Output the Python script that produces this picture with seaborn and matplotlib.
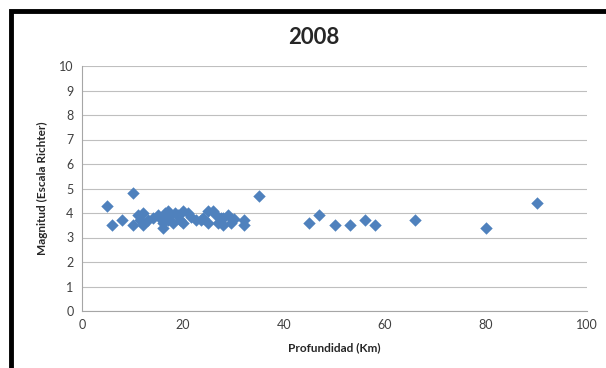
import numpy as np
import pandas as pd
import matplotlib
matplotlib.use("Agg")
import matplotlib.pyplot as plt
from matplotlib.patches import Rectangle
import seaborn as sns

# depth (km) and magnitude
profundidad = [5, 6, 8, 10, 10, 11, 11.5, 12, 12, 13, 14, 15, 15.5, 16, 16, 16.5, 17,
               17, 17.5, 18, 18.5, 19, 19.5, 20, 20, 21, 21.5, 22.5, 23.5, 24, 25, 25,
               26, 26.5, 27, 27.5, 28, 28, 29, 29.5, 30, 32, 32, 35, 45, 47, 50, 53, 56,
               58, 66, 80, 90]
magnitud = [4.3, 3.5, 3.7, 4.8, 3.5, 3.9, 3.7, 4.0, 3.5, 3.7, 3.8, 3.9, 3.8, 3.4, 3.6, 4.0, 4.1,
            3.7, 3.9, 3.6, 4.0, 3.9, 3.7, 4.1, 3.6, 4.0, 3.85, 3.7, 3.7, 3.8, 3.6, 4.1,
            4.1, 3.9, 3.6, 3.8, 3.8, 3.5, 3.9, 3.6, 3.75, 3.7, 3.5, 4.7, 3.6, 3.9, 3.5, 3.5, 3.7,
            3.5, 3.7, 3.4, 4.4]

df = pd.DataFrame({"Profundidad": profundidad, "Magnitud": magnitud})

sns.set_style("white")
plt.rcParams["font.family"] = ["Lato", "DejaVu Sans"]

fig = plt.figure(figsize=(6.06, 3.68), dpi=100)
ax = fig.add_axes([82 / 606, 57 / 368, 505 / 606, 245 / 368])

sns.scatterplot(data=df, x="Profundidad", y="Magnitud", marker="D", s=40,
                color="#4F81BD", linewidth=0, ax=ax, zorder=3)

ax.set_xlim(0, 100)
ax.set_ylim(0, 10)
ax.set_xticks(np.arange(0, 101, 20))
ax.set_yticks(np.arange(0, 11, 1))
ax.yaxis.grid(True, color="#BFBFBF", linewidth=0.8)
ax.xaxis.grid(False)
for side in ["top", "right"]:
    ax.spines[side].set_visible(False)
for side in ["left", "bottom"]:
    ax.spines[side].set_color("#A6A6A6")
    ax.spines[side].set_linewidth(0.8)
ax.tick_params(axis="both", labelsize=9, labelcolor="#404040", length=0, pad=6)

ax.set_xlabel("Profundidad (Km)", fontsize=8.5, fontweight="bold", labelpad=8)
ax.set_ylabel("Magnitud (Escala Richter)", fontsize=8.5, fontweight="bold", labelpad=8)
fig.text(314 / 606, 1 - 38 / 368, "2008", ha="center", va="center",
         fontsize=16, fontweight="bold")

# thick black frame, right and bottom edges cut off like the original
fig.patches.append(Rectangle((11 / 606, -0.1), 1.2, 1 - 11 / 368 + 0.1,
                             transform=fig.transFigure, fill=False,
                             edgecolor="black", linewidth=3.5))

fig.savefig("out.png", dpi=100)
